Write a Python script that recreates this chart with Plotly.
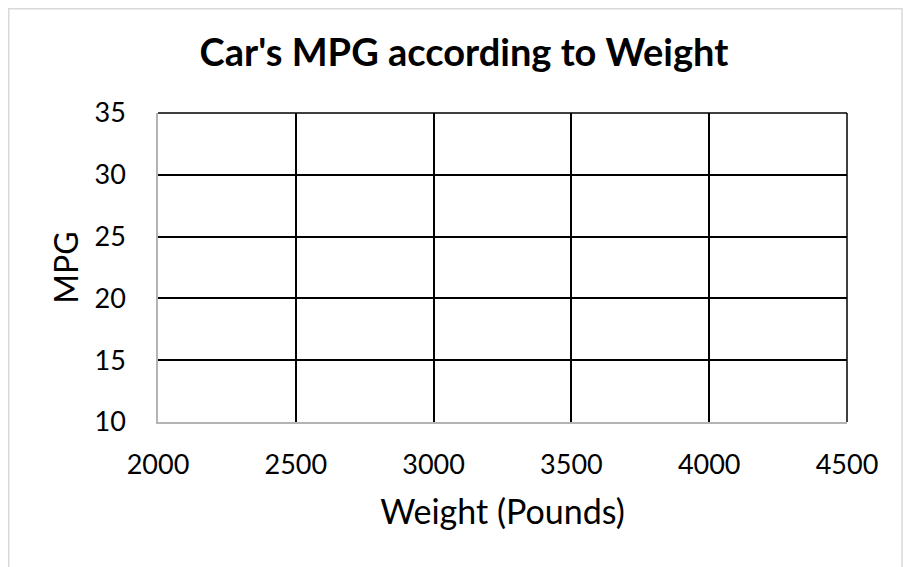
import plotly.graph_objects as go

# Data (the reference chart contains no plotted points)
weight_pounds = []
mpg_values = []

x_tick_vals = [2000, 2500, 3000, 3500, 4000, 4500]
y_tick_vals = [10, 15, 20, 25, 30, 35]

title_text = "Car's MPG according to Weight"
x_title = "Weight (Pounds)"
y_title = "MPG"

# the page body has an 8px margin, so the figure is sized to fit the window
W, H = 906, 559
ML, MR, MT, MB = 150, 67, 105, 145
PW, PH = W - ML - MR, H - MT - MB


def px_to_paper_x(px):
    return (px - ML) / PW


def px_to_paper_y(py):
    return (H - MB - py) / PH


FONT = "Lato"

fig = go.Figure()
fig.add_trace(go.Scatter(x=weight_pounds, y=mpg_values, mode="markers",
                         marker=dict(color="#4472C4"), showlegend=False))

fig.update_layout(
    width=W, height=H,
    margin=dict(l=ML, r=MR, t=MT, b=MB, pad=0),
    paper_bgcolor="white", plot_bgcolor="white",
    font=dict(family=FONT, color="black"),
    title=dict(text=f"<b>{title_text}</b>", x=456 / W, xanchor="center",
               y=1 - 45 / H, yanchor="middle",
               font=dict(family=FONT, size=38, color="black")),
    showlegend=False,
    xaxis=dict(
        range=[x_tick_vals[0], x_tick_vals[-1]], tickvals=x_tick_vals,
        showgrid=True, gridcolor="black", gridwidth=1.5,
        showline=True, linecolor="#b4b4b4", linewidth=1.5,
        ticks="outside", ticklen=18, tickcolor="rgba(0,0,0,0)",
        tickfont=dict(family=FONT, size=27, color="black"),
        title=dict(text=x_title, font=dict(family=FONT, size=34, color="black"),
                   standoff=21),
        zeroline=False, fixedrange=True,
    ),
    yaxis=dict(
        range=[y_tick_vals[0], y_tick_vals[-1]], tickvals=y_tick_vals,
        showgrid=True, gridcolor="black", gridwidth=1.5,
        showline=True, linecolor="#b4b4b4", linewidth=1.5,
        ticks="outside", ticklen=25, tickcolor="rgba(0,0,0,0)",
        tickfont=dict(family=FONT, size=27, color="black"),
        title=dict(text=y_title, font=dict(family=FONT, size=32, color="black"),
                   standoff=6),
        zeroline=False, fixedrange=True,
    ),
    shapes=[
        # top and right frame edges (black, like the gridlines)
        dict(type="line", xref="paper", yref="paper", x0=0, x1=1, y0=1, y1=1,
             line=dict(color="black", width=1.5)),
        dict(type="line", xref="paper", yref="paper", x0=1, x1=1, y0=0, y1=1,
             line=dict(color="black", width=1.5)),
        # chart-area border
        dict(type="rect", xref="paper", yref="paper",
             x0=px_to_paper_x(0.75), x1=px_to_paper_x(894),
             y0=px_to_paper_y(580), y1=px_to_paper_y(0.75),
             line=dict(color="#d9d9d9", width=1.5), layer="below"),
    ],
)

fig.write_html("out.html")
